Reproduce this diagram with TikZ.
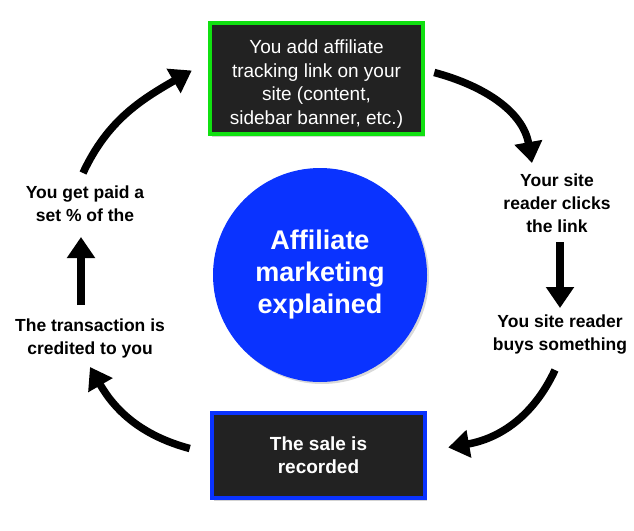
\documentclass[tikz,border=0pt]{standalone}
\usepackage{fontspec}
\setmainfont{Liberation Sans}
\usepackage{tikz}
\usetikzlibrary{arrows.meta,calc,shadows}
\definecolor{boxbg}{HTML}{222222}
\definecolor{lime}{HTML}{11E011}
\definecolor{royal}{HTML}{0A33FF}

\begin{document}
\begin{tikzpicture}[x=1pt, y=1pt,
  lbl/.style={align=center, font=\fontsize{17.5}{23}\selectfont\bfseries},
  box/.style={fill=boxbg, line width=4.5pt, minimum width=213pt, align=center, text=white,
              drop shadow={shadow xshift=2pt, shadow yshift=-3pt, opacity=.35}},
  arr/.style={-{Triangle[length=21pt,width=27pt]}, line width=7.5pt}]
\useasboundingbox (0,0) rectangle (634,-530);
% boxes and hub
\node[box, draw=lime, minimum height=111pt, text height=96pt, font=\fontsize{19}{23.7}\selectfont] (top) at (316.5,-78.5)
  {You add affiliate\\tracking link on your\\site (content,\\sidebar banner, etc.)};
\node[box, draw=royal, minimum height=85pt, font=\fontsize{19}{23}\selectfont\bfseries] (sale) at (318.5,-455.5)
  {The sale is\\recorded};
\node[circle, fill=royal, minimum size=214pt, text=white, align=center,
      font=\fontsize{27}{32}\selectfont\bfseries,
      drop shadow={shadow xshift=2pt, shadow yshift=-2pt, opacity=.3}] (hub) at (320,-275)
  {Affiliate\\marketing\\explained};
% step labels
\node[lbl] (click) at (557,-203) {Your site\\reader clicks\\the link};
\node[lbl] (buy) at (560,-335) {You site reader\\buys something};
\node[lbl] (credit) at (90,-338) {The transaction is\\credited to you};
\node[lbl] (paid) at (85,-204) {You get paid a\\set \% of the};
% arrows
\draw[arr] ($(top.east)+(9,6)$) to[out=-15, in=100] ($(click)+(-25,40)$);
\draw[arr] ($(click)+(3,-39)$) -- ($(buy)+(0,27)$);
\draw[arr] ($(buy)+(-5,-35)$) to[out=-115, in=10] ($(sale.east)+(21,8)$);
\draw[arr] ($(sale.west)+(-20,7)$) to[out=165, in=-60] ($(credit)+(0,-29)$);
\draw[arr] ($(credit)+(-9,33)$) -- ($(paid)+(-4,-33)$);
\draw[arr] ($(paid)+(-2,31)$) to[out=65, in=-150] ($(top.west)+(-16,8)$);
\end{tikzpicture}
\end{document}
